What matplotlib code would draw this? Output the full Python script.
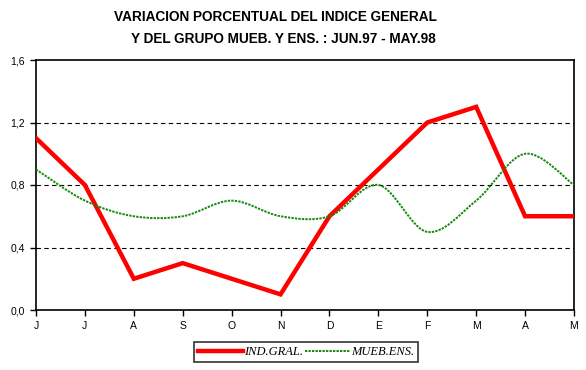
import numpy as np
import matplotlib
matplotlib.use('Agg')
import matplotlib.pyplot as plt
from matplotlib.path import Path
from matplotlib.patches import PathPatch
from matplotlib.lines import Line2D

# --- Data ---
months = ['J', 'J', 'A', 'S', 'O', 'N', 'D', 'E', 'F', 'M', 'A', 'M']
ind_gral = [1.1, 0.8, 0.2, 0.3, 0.2, 0.1, 0.6, 0.9, 1.2, 1.3, 0.6, 0.6]
mueb_ens = [0.9, 0.7, 0.6, 0.6, 0.7, 0.6, 0.6, 0.8, 0.5, 0.7, 1.0, 0.8]
y_ticks = [0.0, 0.4, 0.8, 1.2, 1.6]
y_labels = ['0,0', '0,4', '0,8', '1,2', '1,6']
title_1 = 'VARIACION PORCENTUAL DEL INDICE GENERAL'
title_2 = 'Y DEL GRUPO MUEB. Y ENS. : JUN.97 - MAY.98'


def smooth_path(xs, ys):
    # excel-style smoothed line: cubic bezier segments through every point
    pts = np.column_stack([xs, ys]).astype(float)
    ext = np.vstack([pts[0], pts, pts[-1]])
    verts = [pts[0]]
    codes = [Path.MOVETO]
    for i in range(len(pts) - 1):
        p0, p1, p2, p3 = ext[i], ext[i + 1], ext[i + 2], ext[i + 3]
        verts += [p1 + (p2 - p0) / 6, p2 - (p3 - p1) / 6, p2]
        codes += [Path.CURVE4] * 3
    return Path(verts, codes)


fig = plt.figure(figsize=(5.86, 3.70), dpi=100)
ax = fig.add_axes([36 / 586, 60 / 370, 538 / 586, 250 / 370])

x = np.arange(len(months))

# gridlines
for yv in y_ticks[1:-1]:
    ax.axhline(yv, color='black', lw=0.8, linestyle=(0, (4, 3)), zorder=1)

ax.plot(x, ind_gral, color='#ff0000', lw=3.2, solid_joinstyle='miter', zorder=3)
green = '#138a08'
ax.add_patch(PathPatch(smooth_path(x, mueb_ens), fill=False, edgecolor=green,
                       lw=1.4, linestyle=(0, (1.2, 0.6)), zorder=4))

ax.set_xlim(0, 11)
ax.set_ylim(0, 1.6)
ax.set_xticks(x)
ax.set_xticklabels(months, fontsize=7.5, family='Liberation Sans')
ax.set_yticks(y_ticks)
ax.set_yticklabels(y_labels, fontsize=7.5, family='Liberation Sans')
ax.tick_params(direction='out', length=4, width=1, pad=4)
for s in ax.spines.values():
    s.set_linewidth(1.2)

# titles
fig.text(275 / 586, 1 - 17 / 370, title_1, ha='center', va='center',
         fontsize=9.8, fontweight='bold', family='Liberation Sans')
fig.text(283 / 586, 1 - 39 / 370, title_2, ha='center', va='center',
         fontsize=9.8, fontweight='bold', family='Liberation Sans')

# legend
handles = [Line2D([], [], color='#ff0000', lw=3.2),
           Line2D([], [], color=green, lw=1.4, linestyle=(0, (1.2, 0.6)))]
leg = fig.legend(handles, ['IND.GRAL.', 'MUEB.ENS.'], loc='center',
                 bbox_to_anchor=(306 / 586, 1 - 352 / 370), ncol=2,
                 prop={'family': 'Liberation Serif', 'style': 'italic', 'size': 9},
                 frameon=True, fancybox=False, edgecolor='black',
                 handlelength=3.6, handletextpad=0.1, columnspacing=0.1,
                 borderpad=0.3, borderaxespad=0)
leg.get_frame().set_linewidth(1.2)

fig.savefig('out.png', dpi=100)
